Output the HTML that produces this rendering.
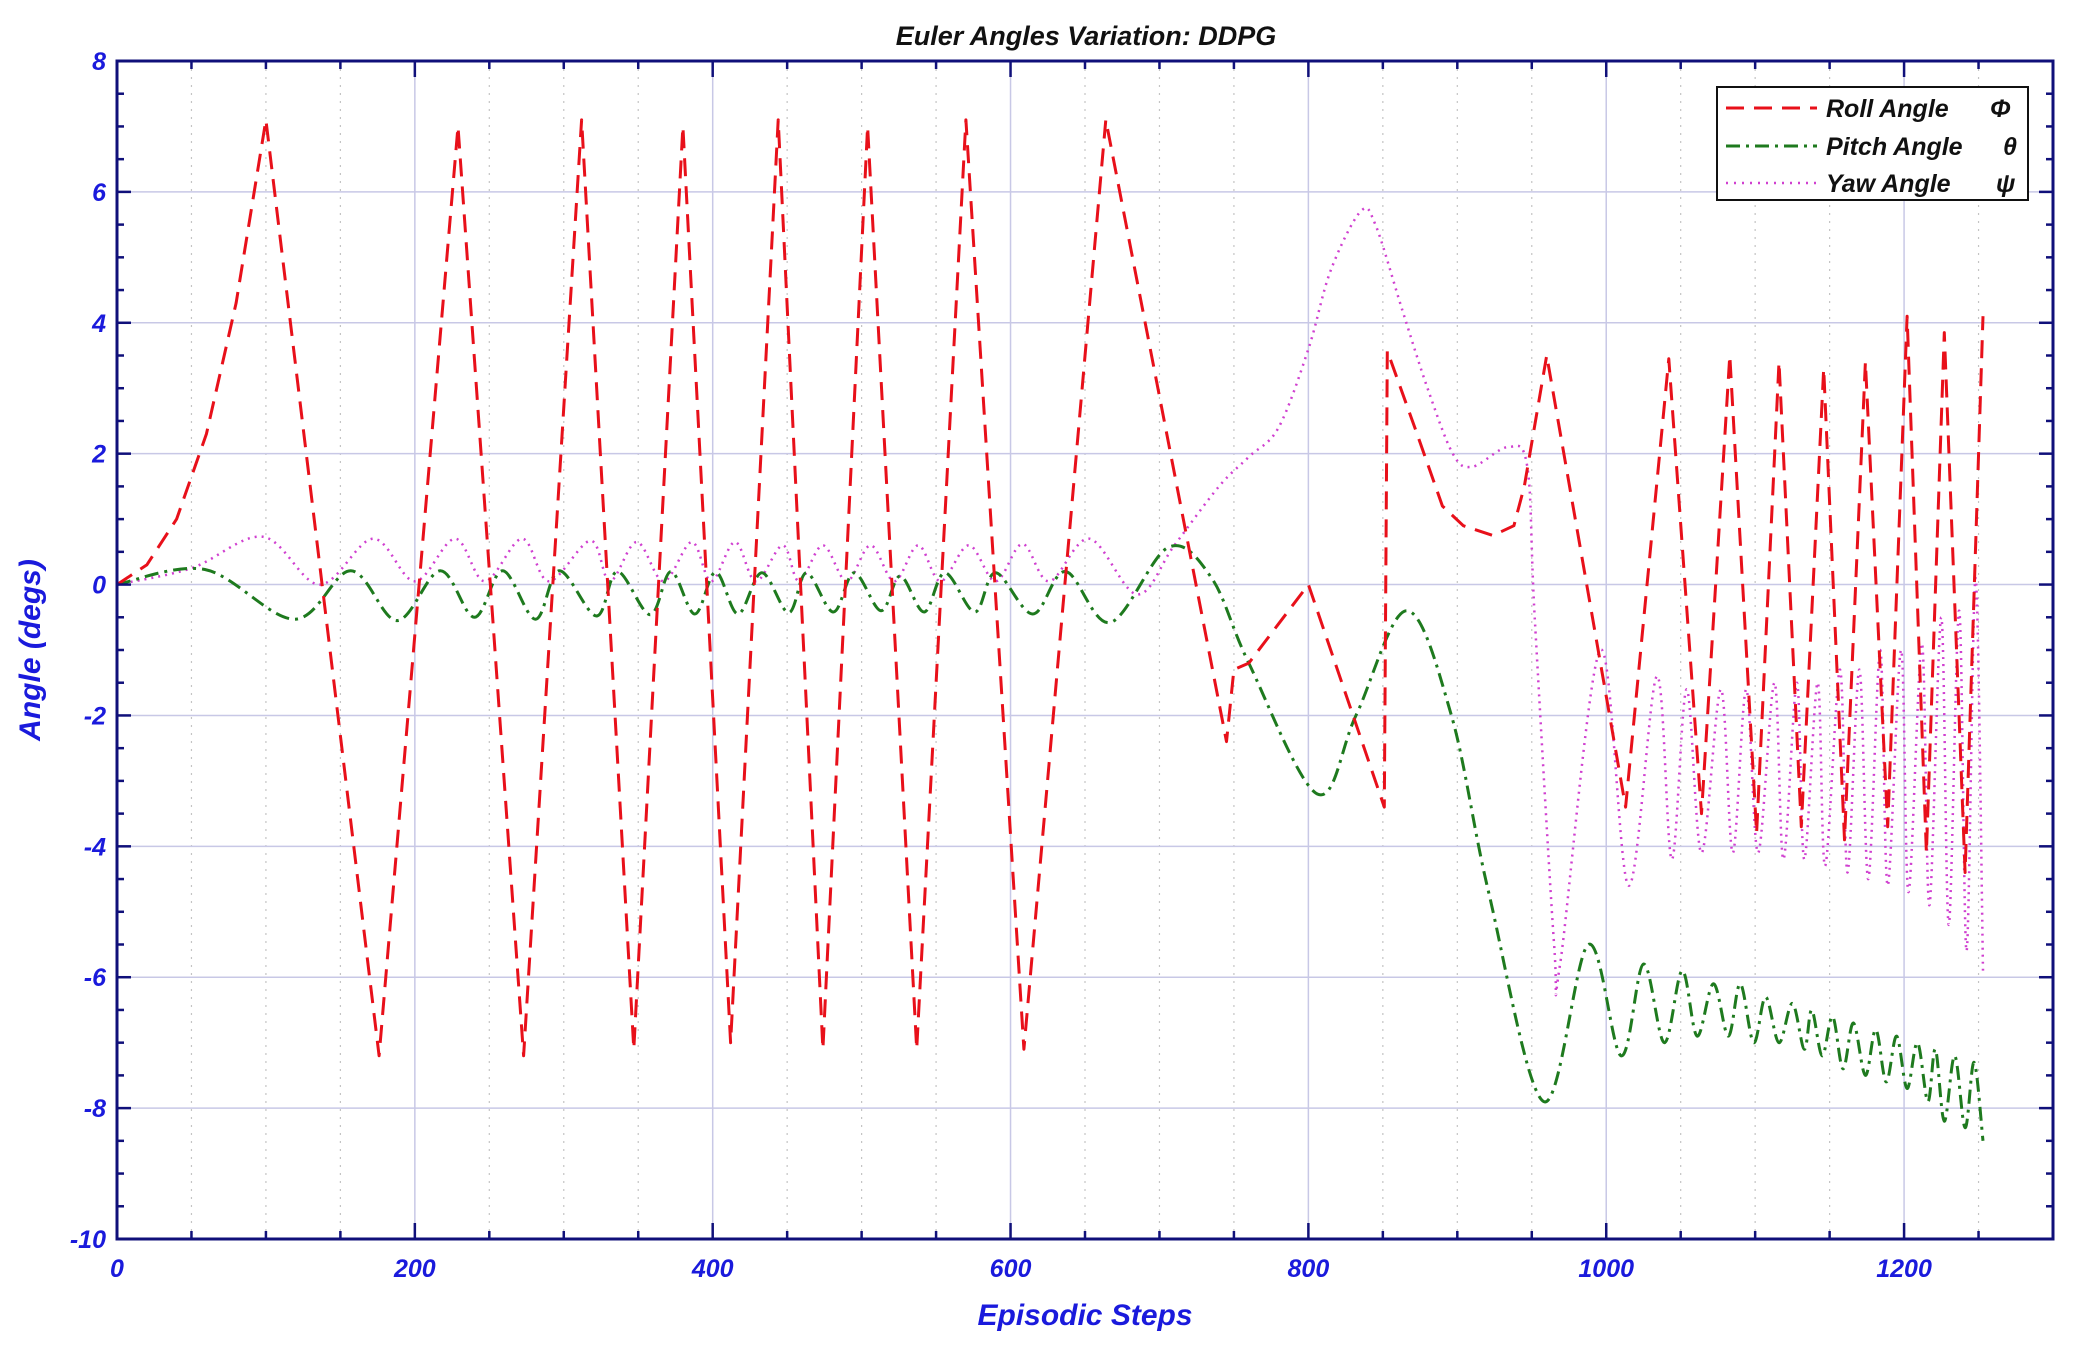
<!DOCTYPE html>
<html><head><meta charset="utf-8"><style>
html,body{margin:0;padding:0;background:#fff;}
svg{display:block;font-family:"Liberation Sans",sans-serif;}
</style></head><body>
<svg id="chart" width="2076" height="1348" viewBox="0 0 2076 1348" xmlns="http://www.w3.org/2000/svg">
<rect width="2076" height="1348" fill="#fff"/>
<g id="grid"></g>
<g id="series"></g>
<g id="axes"></g>
<text x="1086" y="45" font-size="27" font-weight="bold" font-style="italic" text-anchor="middle" fill="#111">Euler Angles Variation: DDPG</text>
<text x="1085" y="1325" font-size="30" font-weight="bold" font-style="italic" text-anchor="middle" fill="#1a1adc">Episodic Steps</text>
<text transform="translate(40,650) rotate(-90)" font-size="30" font-weight="bold" font-style="italic" text-anchor="middle" fill="#1a1adc">Angle (degs)</text>
<g>
<rect x="1717" y="87" width="311" height="113" fill="#fff" stroke="#111" stroke-width="2"/>
<line x1="1726" y1="108" x2="1817" y2="108" stroke="#e8101a" stroke-width="3" stroke-dasharray="18,10"/>
<text x="1826" y="117" font-size="25" font-weight="bold" font-style="italic" fill="#111">Roll Angle</text>
<text x="1990" y="117" font-size="25" font-weight="bold" font-style="italic" fill="#111">Φ</text>
<line x1="1726" y1="146" x2="1817" y2="146" stroke="#1e7a1e" stroke-width="3" stroke-dasharray="14,6,3,6"/>
<text x="1826" y="155" font-size="25" font-weight="bold" font-style="italic" fill="#111">Pitch Angle</text>
<text x="2003" y="155" font-size="25" font-weight="bold" font-style="italic" fill="#111">θ</text>
<line x1="1726" y1="183" x2="1817" y2="183" stroke="#d040d0" stroke-width="2.5" stroke-dasharray="2,6"/>
<text x="1826" y="192" font-size="25" font-weight="bold" font-style="italic" fill="#111">Yaw Angle</text>
<text x="1996" y="192" font-size="25" font-weight="bold" font-style="italic" fill="#111">ψ</text>
</g>
</svg>
<script>
const xTicks = [0,200,400,600,800,1000,1200];
const yTicks = [8,6,4,2,0,-2,-4,-6,-8,-10];
const rollX = [0,20,40,60,80,100,176,229,273,312,347,380,412,444,474,504,537,570,609,664,745,750,760,780,800,851,853,873,890,904,924,938,945,960,1013,1042,1064,1083,1101,1116,1131,1146,1160,1174,1189,1202,1215,1227,1241,1253];
const rollY = [0,0.3,1,2.3,4.3,7.1,-7.2,7.0,-7.2,7.1,-7.1,7.0,-7.0,7.1,-7.1,7.0,-7.1,7.1,-7.1,7.1,-2.4,-1.3,-1.2,-0.6,0,-3.4,3.57,2.3,1.2,0.9,0.75,0.9,1.5,3.5,-3.4,3.45,-3.5,3.5,-3.8,3.4,-3.7,3.3,-3.9,3.4,-3.7,4.1,-4.1,3.85,-4.4,4.1];
const pitchX = [0,59,119,157,188,217,240,259,281,297,322,336,358,372,388,402,417,433,451,463,481,495,513,526,542,556,576,590,615,637,667,706,735,760,806,832,866,896,921,958,988,1010,1025,1039,1051,1061,1072,1082,1090,1099,1107,1116,1125,1133,1138,1145,1152,1159,1166,1174,1181,1188,1195,1202,1209,1216,1221,1227,1234,1241,1247,1253];
const pitchY = [0,0.23,-0.53,0.21,-0.55,0.21,-0.5,0.21,-0.53,0.21,-0.48,0.2,-0.46,0.2,-0.45,0.19,-0.45,0.18,-0.43,0.18,-0.42,0.18,-0.4,0.13,-0.42,0.18,-0.42,0.18,-0.45,0.2,-0.58,0.57,0.1,-1.2,-3.2,-2.0,-0.4,-2.0,-4.7,-7.9,-5.5,-7.2,-5.8,-7.0,-5.9,-6.9,-6.1,-6.9,-6.1,-7.0,-6.3,-7.0,-6.4,-7.1,-6.5,-7.2,-6.6,-7.4,-6.7,-7.5,-6.8,-7.6,-6.9,-7.7,-7.0,-7.9,-7.1,-8.2,-7.2,-8.3,-7.3,-8.5];
const yawX = [0,50,98,136,172,200,227,247,272,290,318,331,349,367,386,399,415,429,447,458,474,490,506,522,538,553,572,590,608,626,653,685,710,740,760,780,800,815,835,845,863,880,897,910,934,947,952,965,969,996,1015,1034,1044,1054,1064,1077,1085,1094,1102,1113,1119,1128,1133,1142,1147,1157,1162,1170,1176,1184,1189,1198,1203,1212,1217,1225,1230,1237,1242,1248,1253];
const yawY = [0,0.25,0.73,0,0.7,0.05,0.7,0.05,0.7,0.05,0.67,0.05,0.65,0.05,0.65,0.05,0.65,0.05,0.6,0.05,0.6,0.05,0.6,0.05,0.6,0.05,0.6,0.05,0.62,0.05,0.7,-0.15,0.6,1.5,1.95,2.4,3.6,4.8,5.7,5.5,4.2,3.0,2.0,1.8,2.1,1.8,-0.5,-5.5,-5.8,-1.0,-4.6,-1.4,-4.2,-1.6,-4.1,-1.6,-4.1,-1.6,-4.1,-1.5,-4.2,-1.5,-4.2,-1.5,-4.3,-1.3,-4.4,-1.3,-4.5,-1.0,-4.6,-1.0,-4.7,-0.9,-4.9,-0.5,-5.2,-0.4,-5.6,0.1,-5.9];

const X0=117,X1=2053,Y0=61,Y1=1239,XMIN=0,XMAX=1300,YMIN=-10,YMAX=8;
const sx=v=>X0+(v-XMIN)/(XMAX-XMIN)*(X1-X0);
const sy=v=>Y0+(YMAX-v)/(YMAX-YMIN)*(Y1-Y0);
const NS="http://www.w3.org/2000/svg";
function mk(tag,attrs,parent){const e=document.createElementNS(NS,tag);for(const k in attrs)e.setAttribute(k,attrs[k]);parent.appendChild(e);return e;}
const grid=document.getElementById('grid'),axes=document.getElementById('axes'),series=document.getElementById('series');
for(let v=50;v<XMAX;v+=50){
  const major=v%200===0;
  const l=mk('line',{x1:sx(v),x2:sx(v),y1:Y0,y2:Y1,stroke:major?'#c8c8e6':'#c4c4c4','stroke-width':major?1.5:1.2,'stroke-dasharray':major?'none':'2,6'},grid);
  
  
  const len=major?16:8;
  const t1=mk('line',{x1:sx(v),x2:sx(v),y1:Y1,y2:Y1-len,stroke:'#10107a','stroke-width':2.5},axes);
  
  
  const t2=mk('line',{x1:sx(v),x2:sx(v),y1:Y0,y2:Y0+len,stroke:'#10107a','stroke-width':2.5},axes);
  
  
}
for(let v=YMIN+0.5;v<YMAX;v+=0.5){
  const major=Math.abs(v%2)<1e-9;
  if(major){const l=mk('line',{x1:X0,x2:X1,y1:sy(v),y2:sy(v),stroke:'#c8c8e6','stroke-width':1.5},grid);
  
  }
  const len=major?14:7;
  const t1=mk('line',{x1:X0,x2:X0+len,y1:sy(v),y2:sy(v),stroke:'#10107a','stroke-width':2.5},axes);
  
  
  const t2=mk('line',{x1:X1,x2:X1-len,y1:sy(v),y2:sy(v),stroke:'#10107a','stroke-width':2.5},axes);
  
  
}
const frame=mk('rect',{x:X0,y:Y0,width:X1-X0,height:Y1-Y0,fill:'none',stroke:'#10107a','stroke-width':3},axes);


xTicks.forEach(v=>{const t=mk('text',{x:sx(v),y:1277,'font-size':25,'font-weight':'bold','font-style':'italic','text-anchor':'middle',fill:'#1a1adc'},axes);t.textContent=v;
  
  });
yTicks.forEach(v=>{const t=mk('text',{x:106,y:sy(v)+9,'font-size':25,'font-weight':'bold','font-style':'italic','text-anchor':'end',fill:'#1a1adc'},axes);t.textContent=v;
  
  });
function linPath(xs,ys){return xs.map((x,i)=>(i?'L':'M')+sx(x).toFixed(1)+','+sy(ys[i]).toFixed(1)).join('');}
function smoothPath(xs,ys){const p=xs.map((x,i)=>[sx(x),sy(ys[i])]);let d='M'+p[0][0]+','+p[0][1];
  for(let i=0;i<p.length-1;i++){const a=p[Math.max(0,i-1)],b=p[i],c=p[i+1],e=p[Math.min(p.length-1,i+2)];
    const c1x=b[0]+(c[0]-a[0])/6,c1y=b[1]+(c[1]-a[1])/6,c2x=c[0]-(e[0]-b[0])/6,c2y=c[1]-(e[1]-b[1])/6;
    d+='C'+c1x.toFixed(1)+','+c1y.toFixed(1)+' '+c2x.toFixed(1)+','+c2y.toFixed(1)+' '+c[0].toFixed(1)+','+c[1].toFixed(1);}
  return d;}
const yaw=mk('path',{d:smoothPath(yawX,yawY),fill:'none',stroke:'#d040d0','stroke-width':2.5,'stroke-dasharray':'2,5'},series);


const pitch=mk('path',{d:smoothPath(pitchX,pitchY),fill:'none',stroke:'#1e7a1e','stroke-width':3,'stroke-dasharray':'14,6,3,6'},series);


const roll=mk('path',{d:linPath(rollX,rollY),fill:'none',stroke:'#e8101a','stroke-width':3,'stroke-dasharray':'18,10','stroke-linejoin':'round'},series);


</script>
</body></html>
